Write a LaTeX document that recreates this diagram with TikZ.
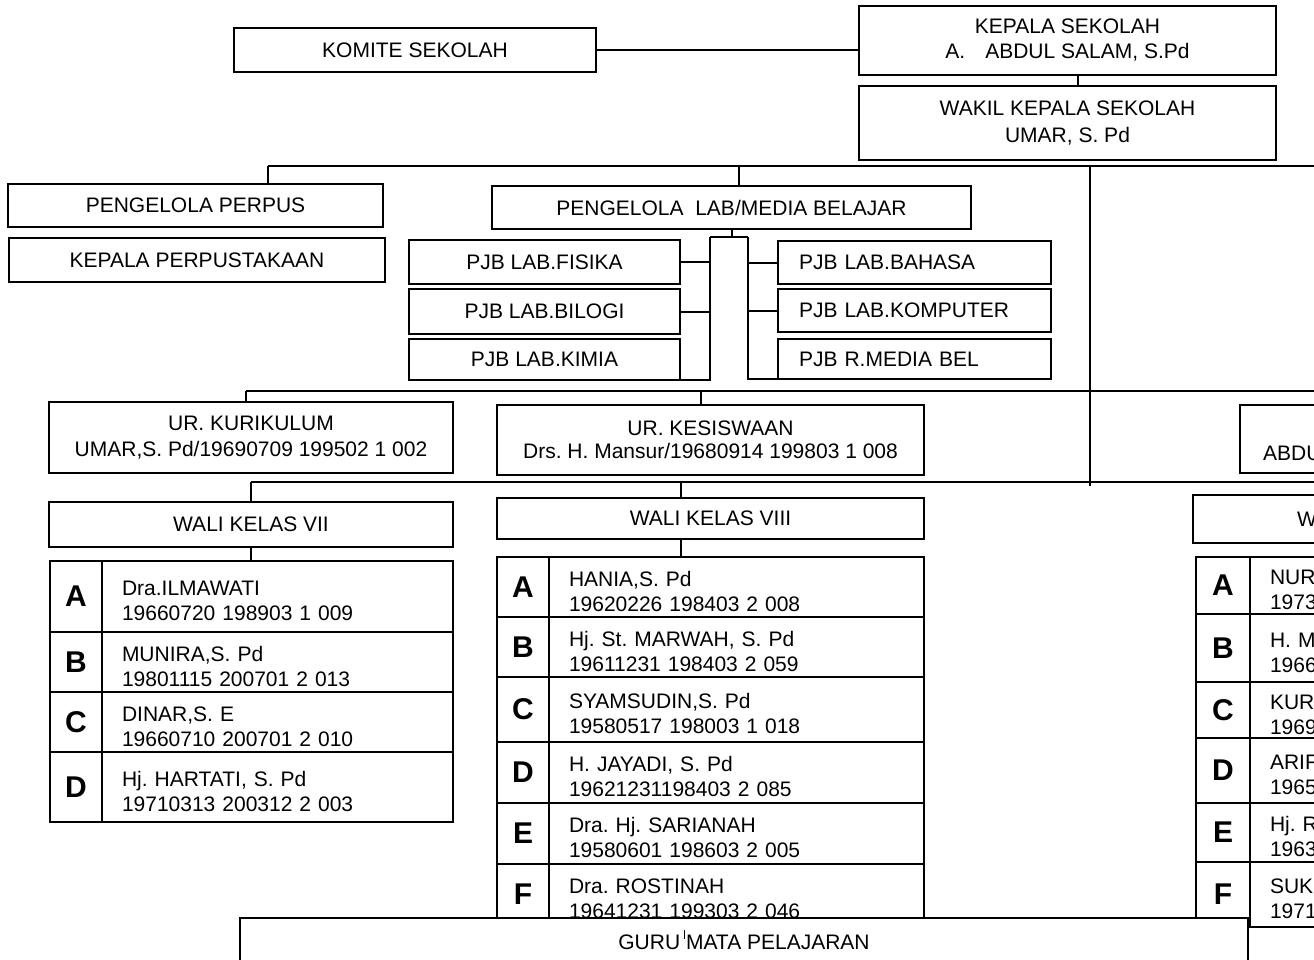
\documentclass[tikz,border=0pt]{standalone}
\usepackage{fontspec}
\setmainfont{Liberation Sans}
\usetikzlibrary{calc}
\frenchspacing

\begin{document}
\begin{tikzpicture}[
  x=1pt,y=-1pt,
  font=\fontsize{21}{26}\selectfont,
  link/.style={line width=2pt,draw=black},
  box/.style={draw=black,line width=2pt,inner sep=0pt,outer sep=0pt,align=center},
  sidebox/.style={box,anchor=west,align=left,inner xsep=21pt,text width=231pt},
  tag/.style={draw=black,line width=2pt,inner sep=0pt,outer sep=0pt,anchor=north west,
              font=\fontsize{30}{30}\selectfont\bfseries},
  namecell/.style={draw=black,line width=2pt,inner xsep=20pt,inner ysep=0pt,outer sep=0pt,
                   anchor=north west,align=left,text height=24pt,
                   font=\fontsize{21}{25}\selectfont},
  frag/.style={anchor=west,inner sep=0pt}
]

\useasboundingbox (0,0) rectangle (1314,959);
\clip (0,0) rectangle (1314,959);

% Pimpinan
\node[box,minimum width=362pt,minimum height=44pt] (komite) at (415,50) {KOMITE SEKOLAH};
\node[box,minimum width=417pt,minimum height=69pt] (kepala) at (1067.5,40.5)
  {KEPALA SEKOLAH\\[-1pt]A.\hspace{20pt}ABDUL SALAM, S.Pd};
\node[box,minimum width=417pt,minimum height=74pt] (wakil) at (1067.5,123)
  {WAKIL KEPALA SEKOLAH\\[1pt]UMAR, S. Pd};

% Perpustakaan dan lab
\node[box,minimum width=375pt,minimum height=43pt] (perpus) at (195.5,205.5) {PENGELOLA PERPUS};
\node[box,minimum width=376pt,minimum height=44pt] (kapus) at (197,260) {KEPALA PERPUSTAKAAN};
\node[box,minimum width=479pt,minimum height=43pt] (lab) at (731.5,207.5) {PENGELOLA\ \ LAB/MEDIA BELAJAR};

\node[box,minimum width=271pt,minimum height=44pt] (fisika) at (544.5,262) {PJB LAB.FISIKA};
\node[box,minimum width=271pt,minimum height=45pt] (bilogi) at (544.5,311.5) {PJB LAB.BILOGI};
\node[box,minimum width=271pt,minimum height=41pt] (kimia) at (544.5,359.5) {PJB LAB.KIMIA};
\node[sidebox,minimum height=43pt] (bahasa) at (778,262.5) {PJB LAB.BAHASA};
\node[sidebox,minimum height=43pt] (komputer) at (778,310.5) {PJB LAB.KOMPUTER};
\node[sidebox,minimum height=40pt] (rmedia) at (778,359) {PJB R.MEDIA BEL};

% Urusan
\node[box,minimum width=404pt,minimum height=71pt] (kurikulum) at (251,437.5)
  {UR. KURIKULUM\\UMAR,S. Pd/19690709 199502 1 002};
\node[box,minimum width=427pt,minimum height=70pt] (kesiswaan) at (710.5,440)
  {UR. KESISWAAN\\[-3pt]Drs. H. Mansur/19680914 199803 1 008};
\node[box,anchor=north west,minimum width=420pt,minimum height=68pt] (urusan3) at (1240,405) {};
\node[frag] (urusan3txt) at (1263,453) {ABDU};

% Wali kelas
\node[box,minimum width=404pt,minimum height=45pt] (wali7) at (251,524.5) {WALI KELAS VII};
\node[box,minimum width=427pt,minimum height=41pt] (wali8) at (710.5,518.5) {WALI KELAS VIII};
\node[box,anchor=north west,minimum width=427pt,minimum height=48pt] (wali9) at (1193,495) {};
\node[frag] (wali9txt) at (1297,519) {W};

% Kelas VII
\node[tag,minimum width=52pt,minimum height=71pt] (k7a) at (50,561) {A};
\node[namecell,text width=311pt,minimum height=71pt] (n7a) at (102,561) {Dra.ILMAWATI\\19660720 198903 1 009};
\node[tag,minimum width=52pt,minimum height=60pt] (k7b) at (50,632) {B};
\node[namecell,text width=311pt,minimum height=60pt] (n7b) at (102,632) {MUNIRA,S. Pd\\19801115 200701 2 013};
\node[tag,minimum width=52pt,minimum height=60pt] (k7c) at (50,692) {C};
\node[namecell,text width=311pt,minimum height=60pt] (n7c) at (102,692) {DINAR,S. E\\19660710 200701 2 010};
\node[tag,minimum width=52pt,minimum height=70pt] (k7d) at (50,752) {D};
\node[namecell,text width=311pt,minimum height=70pt] (n7d) at (102,752) {Hj. HARTATI, S. Pd\\19710313 200312 2 003};

% Kelas VIII
\node[tag,minimum width=52pt,minimum height=60pt] (k8a) at (497,557) {A};
\node[namecell,text width=335pt,minimum height=60pt] (n8a) at (549,557) {HANIA,S. Pd\\19620226 198403 2 008};
\node[tag,minimum width=52pt,minimum height=60pt] (k8b) at (497,617) {B};
\node[namecell,text width=335pt,minimum height=60pt] (n8b) at (549,617) {Hj. St. MARWAH, S. Pd\\19611231 198403 2 059};
\node[tag,minimum width=52pt,minimum height=65pt] (k8c) at (497,677) {C};
\node[namecell,text width=335pt,minimum height=65pt] (n8c) at (549,677) {SYAMSUDIN,S. Pd\\19580517 198003 1 018};
\node[tag,minimum width=52pt,minimum height=61pt] (k8d) at (497,742) {D};
\node[namecell,text width=335pt,minimum height=61pt] (n8d) at (549,742) {H. JAYADI, S. Pd\\19621231198403 2 085};
\node[tag,minimum width=52pt,minimum height=61pt] (k8e) at (497,803) {E};
\node[namecell,text width=335pt,minimum height=61pt] (n8e) at (549,803) {Dra. Hj. SARIANAH\\19580601 198603 2 005};
\node[tag,minimum width=52pt,minimum height=61pt] (k8f) at (497,864) {F};
\node[namecell,text width=335pt,minimum height=61pt] (n8f) at (549,864) {Dra. ROSTINAH\\19641231 199303 2 046};

% Kelas IX
\node[tag,minimum width=54pt,minimum height=57pt] (k9a) at (1196,557) {A};
\node[namecell,text width=370pt,minimum height=57pt] (n9a) at (1250,557) {NUR\\1973};
\node[tag,minimum width=54pt,minimum height=68pt] (k9b) at (1196,614) {B};
\node[namecell,text width=370pt,minimum height=68pt] (n9b) at (1250,614) {H. M\\1966};
\node[tag,minimum width=54pt,minimum height=56pt] (k9c) at (1196,682) {C};
\node[namecell,text width=370pt,minimum height=56pt] (n9c) at (1250,682) {KUR\\1969};
\node[tag,minimum width=54pt,minimum height=65pt] (k9d) at (1196,738) {D};
\node[namecell,text width=370pt,minimum height=65pt] (n9d) at (1250,738) {ARIF\\1965};
\node[tag,minimum width=54pt,minimum height=59pt] (k9e) at (1196,803) {E};
\node[namecell,text width=370pt,minimum height=59pt] (n9e) at (1250,803) {Hj. R\\1963};
\node[tag,minimum width=54pt,minimum height=65pt] (k9f) at (1196,862) {F};
\node[namecell,text width=370pt,minimum height=65pt] (n9f) at (1250,862) {SUK\\1971};

% Garis komando
\draw[link] (komite.east) -- (komite.east -| kepala.west);
\draw[link] ([xshift=10pt]kepala.south) -- ([xshift=10pt]wakil.north);

\coordinate (t1L) at (268,166);
\coordinate (t1R) at (1330,166);
\draw[link] (t1L) -- (t1R);
\draw[link] (t1L) -- (t1L |- perpus.north);
\draw[link] ([xshift=7pt]lab.north) -- ([xshift=7pt]lab.north |- t1L);
\coordinate (v1) at (1090,166);
\coordinate (v2) at (1090,486);
\draw[link] (v1) -- (v2);

% Lab
\coordinate (barL) at (710,237);
\coordinate (barR) at (748,237);
\draw[link] (lab.south) -- (lab.south |- barL);
\draw[link] (barL) -- (barR);
\draw[link] (fisika.east) -- (fisika.east -| barL);
\draw[link] (bilogi.east) -- (bilogi.east -| barL);
\draw[link] (kimia.south east) -- (kimia.south east -| barL) -- (barL);
\draw[link] (bahasa.west) -- (bahasa.west -| barR);
\draw[link] (komputer.west) -- (komputer.west -| barR);
\draw[link] (rmedia.south west) -- (rmedia.south west -| barR) -- (barR);

% Urusan dan wali kelas
\coordinate (t2L) at (246,391);
\coordinate (t2R) at (1330,391);
\draw[link] (t2L) -- (t2R);
\draw[link] (t2L) -- (t2L |- kurikulum.north);
\draw[link] ([xshift=-10pt]kesiswaan.north) -- ([xshift=-10pt]kesiswaan.north |- t2L);

\coordinate (t3L) at (251,482);
\coordinate (t3R) at (1330,482);
\draw[link] (t3L) -- (t3R);
\draw[link] (t3L) -- (t3L |- wali7.north);
\draw[link] ([xshift=-30pt]wali8.north) -- ([xshift=-30pt]wali8.north |- t3L);
\draw[link] (wali7.south) -- (wali7.south |- n7a.north);
\draw[link] ([xshift=-30pt]wali8.south) -- ([xshift=-30pt]wali8.south |- n8a.north);

% Guru mata pelajaran
\node[box,fill=white,anchor=north west,minimum width=1008pt,minimum height=48pt] (guru) at (240,918)
  {GURU MATA PELAJARAN};
\draw[line width=1pt] ($(guru.north)+(-60,12)$) -- ++(0,9);

\end{tikzpicture}
\end{document}
